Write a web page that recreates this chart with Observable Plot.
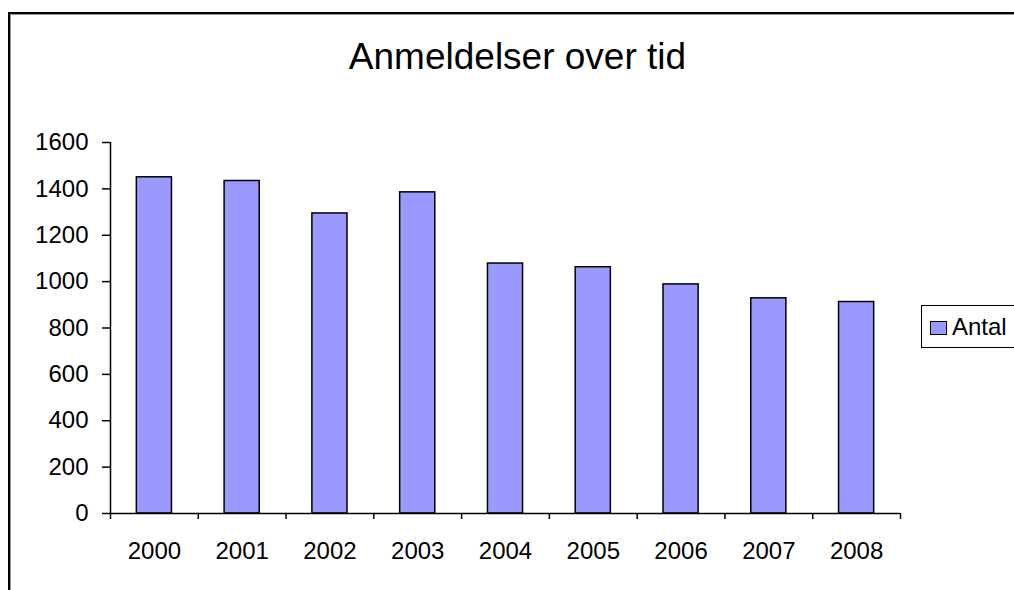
<!DOCTYPE html>
<html>
<head>
<meta charset="utf-8">
<script src="https://cdn.jsdelivr.net/npm/d3@7"></script>
<script src="https://cdn.jsdelivr.net/npm/@observablehq/plot@0.6"></script>
<style>
  html, body { margin: 0; padding: 0; background: #fff; }
  #wrap { position: relative; width: 1014px; height: 590px; overflow: hidden; font-family: "Liberation Sans", Arial, sans-serif; }
  #frame { position: absolute; left: 8px; top: 12px; width: 1100px; height: 700px; border-left: 2px solid #000; border-top: 2px solid #000; box-shadow: 1px 1px 0 #999 inset; }
  #title { position: absolute; left: 0; width: 1035px; top: 38px; text-align: center; font-size: 37px; line-height: 37px; color: #000; }
  #chart { position: absolute; left: 0; top: 0; }
  #legend { position: absolute; left: 921px; top: 305px; width: 140px; height: 41px; border: 1px solid #000; background: #fff; }
  #legend .sw { position: absolute; left: 8px; top: 15px; width: 15px; height: 12px; background: #9999ff; border: 1px solid #000; }
  #legend .lb { position: absolute; left: 30px; top: 8px; font-size: 24px; line-height: 26px; color: #000; }
</style>
</head>
<body>
<div id="wrap">
  <div id="frame"></div>
  <div id="title">Anmeldelser over tid</div>
  <div id="chart"></div>
  <div id="legend"><div class="sw"></div><div class="lb">Antal</div></div>
</div>
<script>
const years = [2000, 2001, 2002, 2003, 2004, 2005, 2006, 2007, 2008];
const antal = [1450, 1434, 1294, 1385, 1078, 1062, 988, 928, 912];
const yTicks = [0, 200, 400, 600, 800, 1000, 1200, 1400, 1600];
const seriesName = "Antal";

const data = years.map((y, i) => ({ year: y, value: antal[i] }));
const boundaries = years.map(y => y - 0.5).concat([years[years.length - 1] + 0.5]);

const chart = Plot.plot({
  width: 1014,
  height: 590,
  marginLeft: 110,
  marginRight: 114,
  marginTop: 142,
  marginBottom: 77,
  style: { fontFamily: "Liberation Sans, Arial, sans-serif", fontSize: "24px", color: "#000", background: "transparent" },
  x: { type: "linear", domain: [years[0] - 0.5, years[years.length - 1] + 0.5] },
  y: { domain: [0, 1600] },
  marks: [
    Plot.rectY(data, { x1: d => d.year - 0.2, x2: d => d.year + 0.2, y: "value", fill: "#9999ff", stroke: "#000", strokeWidth: 1.5 }),
    Plot.ruleY([0], { stroke: "#000", strokeWidth: 1.5 }),
    Plot.ruleX([years[0] - 0.5], { y1: 0, y2: 1600, stroke: "#000", strokeWidth: 1.5 }),
    Plot.axisY(yTicks, { tickSize: 8, tickPadding: 14, strokeWidth: 1.5, label: null, tickFormat: d => String(d), fontSize: 24 }),
    Plot.axisX(boundaries, { tickSize: 6, strokeWidth: 1.5, label: null, tickFormat: () => "" }),
    Plot.axisX(years, { tickSize: 0, tickPadding: 28, label: null, tickFormat: d => String(d), fontSize: 24 })
  ]
});
document.getElementById("chart").appendChild(chart);
</script>
</body>
</html>
